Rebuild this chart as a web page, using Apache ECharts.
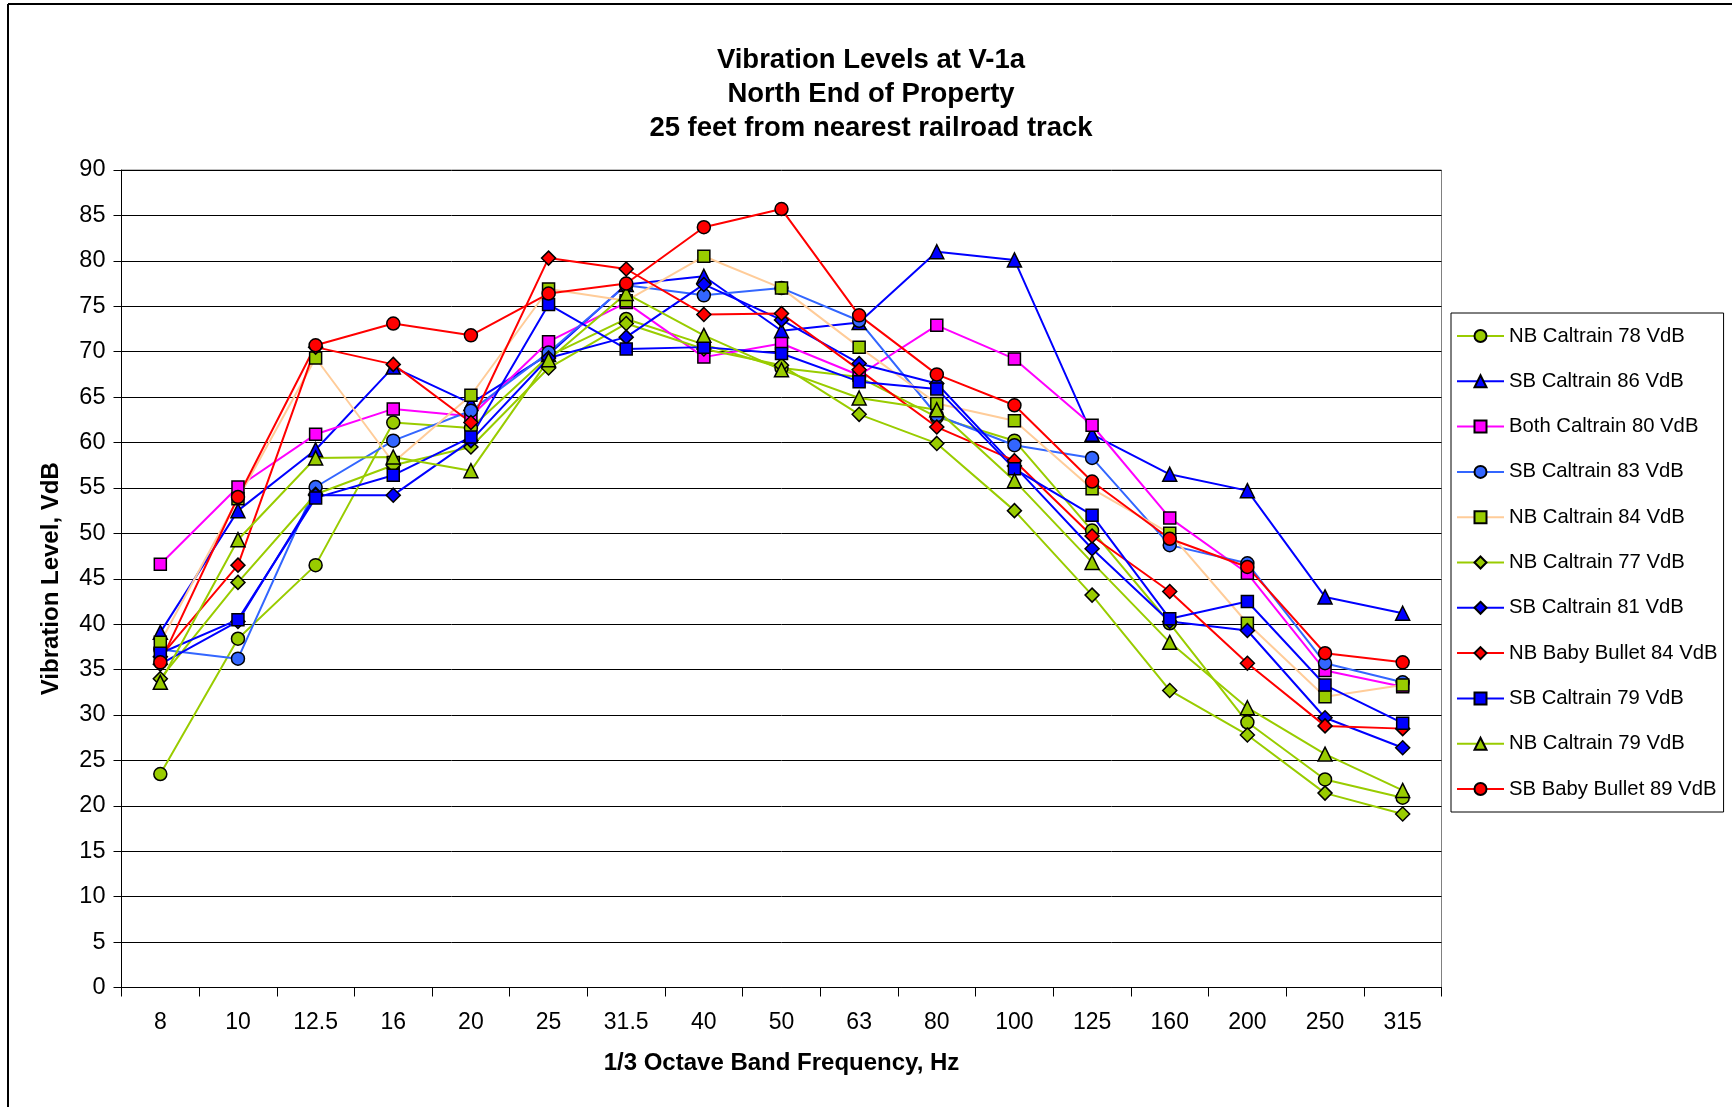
<!DOCTYPE html>
<html>
<head>
<meta charset="utf-8">
<title>Vibration Levels at V-1a</title>
<script src="https://cdn.jsdelivr.net/npm/echarts@6/dist/echarts.min.js"></script>
<style>
  html, body { margin: 0; padding: 0; background: #fff; }
  #chart { width: 1732px; height: 1107px; }
</style>
</head>
<body>
<div id="chart"></div>
<script>
// 1/3 octave band centre frequencies, Hz
var bands = ['8', '10', '12.5', '16', '20', '25', '31.5', '40', '50', '63', '80', '100', '125', '160', '200', '250', '315']
var yTicks = { min: 0, max: 90, step: 5 }

// vibration levels, VdB
var nbCaltrain78 = [23.5, 38.4, 46.5, 62.2, 61.6, 69.5, 73.6, 70.8, 68.2, 67.2, 62.8, 60.2, 50.3, 40.1, 29.2, 22.9, 20.9]
var sbCaltrain86 = [39.1, 52.5, 59.2, 68.3, 64.3, 69.7, 77.4, 78.3, 72.3, 73.2, 81.0, 80.1, 60.9, 56.5, 54.7, 43.0, 41.2]
var bothCaltrain80 = [46.6, 55.1, 60.9, 63.7, 62.9, 71.1, 75.4, 69.4, 70.9, 67.4, 72.9, 69.2, 61.9, 51.7, 45.6, 34.9, 33.1]
var sbCaltrain83 = [37.2, 36.2, 55.1, 60.2, 63.5, 69.9, 77.3, 76.2, 77.0, 73.4, 63.0, 59.7, 58.3, 48.7, 46.7, 35.7, 33.6]
var nbCaltrain84 = [38.0, 53.8, 69.3, 57.8, 65.2, 76.9, 75.6, 80.5, 77.0, 70.5, 64.3, 62.4, 54.9, 50.0, 40.1, 32.0, 33.3]
var nbCaltrain77 = [34.0, 44.6, 54.3, 57.5, 59.5, 68.2, 73.1, 70.3, 68.5, 63.1, 59.9, 52.5, 43.2, 32.7, 27.8, 21.4, 19.1]
var sbCaltrain81 = [35.6, 40.3, 54.2, 54.2, 60.2, 69.3, 71.6, 77.4, 73.5, 68.7, 66.5, 57.4, 48.3, 40.3, 39.3, 29.7, 26.4]
var nbBabyBullet84 = [36.4, 46.5, 70.5, 68.6, 62.2, 80.3, 79.1, 74.1, 74.2, 68.0, 61.7, 58.0, 49.7, 43.6, 35.7, 28.8, 28.5]
var sbCaltrain79 = [36.8, 40.5, 53.9, 56.4, 60.6, 75.2, 70.3, 70.5, 69.8, 66.7, 65.9, 57.1, 52.0, 40.6, 42.5, 33.3, 29.1]
var nbCaltrain79 = [33.6, 49.3, 58.3, 58.4, 56.9, 69.1, 76.4, 71.8, 68.0, 64.9, 63.6, 55.8, 46.8, 38.0, 30.8, 25.7, 21.7]
var sbBabyBullet89 = [35.8, 54.0, 70.7, 73.1, 71.8, 76.4, 77.5, 83.7, 85.7, 74.0, 67.5, 64.1, 55.7, 49.4, 46.3, 36.8, 35.8]

var font = '"Liberation Sans", Arial, sans-serif'

function makeSeries(name, data, lineColor, fill, symbol, size) {
  return {
    name: name,
    type: 'line',
    data: data,
    symbol: symbol,
    symbolSize: size,
    smooth: false,
    animation: false,
    lineStyle: { color: lineColor, width: 2 },
    itemStyle: { color: fill, borderColor: '#000', borderWidth: 1.5 },
    emphasis: { disabled: true }
  }
}

var chart = echarts.init(document.getElementById('chart'), null, { renderer: 'canvas' })

chart.setOption({
  backgroundColor: '#fff',
  animation: false,
  textStyle: { fontFamily: font },
  title: {
    text: 'Vibration Levels at V-1a\nNorth End of Property\n25 feet from nearest railroad track',
    left: 871,
    top: 43,
    padding: 0,
    textAlign: 'center',
    textStyle: {
      fontFamily: font,
      fontSize: 27.5,
      fontWeight: 'bold',
      color: '#000',
      lineHeight: 34.3
    }
  },
  // outer frame (only left and top edges show in the figure)
  graphic: [
    { type: 'line', shape: { x1: 8, y1: 4, x2: 1732, y2: 4 }, style: { stroke: '#000', lineWidth: 2 } },
    { type: 'line', shape: { x1: 8, y1: 4, x2: 8, y2: 1107 }, style: { stroke: '#000', lineWidth: 2 } }
  ],
  legend: {
    orient: 'vertical',
    left: 1451,
    top: 313,
    padding: [13, 6, 13, 5],
    itemWidth: 47,
    itemHeight: 15,
    itemGap: 25.3,
    borderColor: '#000',
    borderWidth: 1,
    backgroundColor: '#fff',
    textStyle: { fontFamily: font, fontSize: 20.3, color: '#000', lineHeight: 20 }
  },
  grid: {
    left: 121.5,
    right: 290.5,
    top: 170,
    bottom: 119.5,
    show: true,
    borderColor: '#808080',
    borderWidth: 1,
    backgroundColor: '#fff'
  },
  xAxis: {
    type: 'category',
    data: bands,
    boundaryGap: true,
    name: '1/3 Octave Band Frequency, Hz',
    nameLocation: 'middle',
    nameGap: 64,
    nameTextStyle: { fontFamily: font, fontSize: 24, fontWeight: 'bold', color: '#000' },
    axisLine: { lineStyle: { color: '#000', width: 1 } },
    axisTick: { show: true, alignWithLabel: false, length: 9, lineStyle: { color: '#000' } },
    axisLabel: { fontFamily: font, fontSize: 23, color: '#000', margin: 24, interval: 0 },
    splitLine: { show: false }
  },
  yAxis: {
    type: 'value',
    min: yTicks.min,
    max: yTicks.max,
    interval: yTicks.step,
    name: 'Vibration Level, VdB',
    nameLocation: 'middle',
    nameGap: 58,
    nameRotate: 90,
    nameTextStyle: { fontFamily: font, fontSize: 24, fontWeight: 'bold', color: '#000' },
    axisLine: { show: true, lineStyle: { color: '#000', width: 1 } },
    axisTick: { show: true, length: 8, lineStyle: { color: '#000' } },
    axisLabel: { fontFamily: font, fontSize: 23.5, color: '#000', margin: 16 },
    splitLine: { show: true, lineStyle: { color: '#000', width: 1 } }
  },
  series: [
    makeSeries('NB Caltrain 78 VdB', nbCaltrain78, '#99CC00', '#99CC00', 'circle', 13),
    makeSeries('SB Caltrain 86 VdB', sbCaltrain86, '#0000FF', '#0000FF', 'triangle', 14),
    makeSeries('Both Caltrain 80 VdB', bothCaltrain80, '#FF00FF', '#FF00FF', 'rect', 12),
    makeSeries('SB Caltrain 83 VdB', sbCaltrain83, '#3366FF', '#3366FF', 'circle', 13),
    makeSeries('NB Caltrain 84 VdB', nbCaltrain84, '#FFCC99', '#99CC00', 'rect', 12),
    makeSeries('NB Caltrain 77 VdB', nbCaltrain77, '#99CC00', '#99CC00', 'diamond', 14),
    makeSeries('SB Caltrain 81 VdB', sbCaltrain81, '#0000FF', '#0000FF', 'diamond', 14),
    makeSeries('NB Baby Bullet 84 VdB', nbBabyBullet84, '#FF0000', '#FF0000', 'diamond', 14),
    makeSeries('SB Caltrain 79 VdB', sbCaltrain79, '#0000FF', '#0000FF', 'rect', 12),
    makeSeries('NB Caltrain 79 VdB', nbCaltrain79, '#99CC00', '#99CC00', 'triangle', 14),
    makeSeries('SB Baby Bullet 89 VdB', sbBabyBullet89, '#FF0000', '#FF0000', 'circle', 13)
  ]
})
</script>
</body>
</html>
